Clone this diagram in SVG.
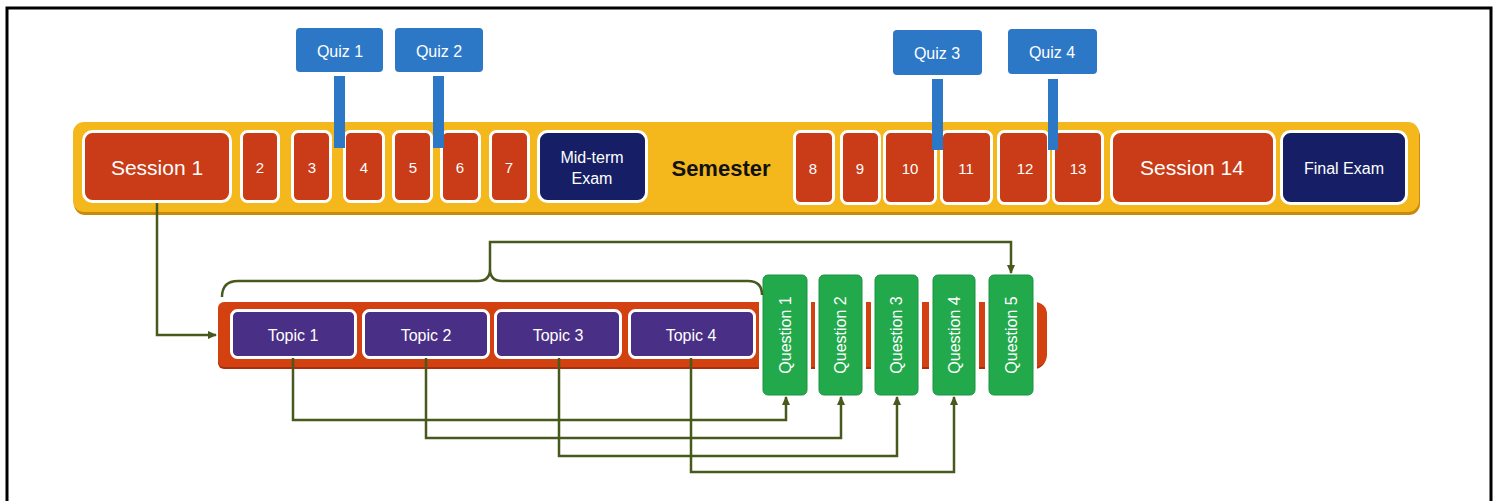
<svg xmlns="http://www.w3.org/2000/svg" width="1497" height="501" viewBox="0 0 1497 501">
  <style>
    .lbl { font-family: "Liberation Sans", Arial, sans-serif; fill: #ffffff; text-anchor: middle; dominant-baseline: central; }
    .session { fill: #C93C17; stroke: #ffffff; stroke-width: 3; }
    .exam { fill: #161F66; stroke: #ffffff; stroke-width: 3; }
    .quiz { fill: #2C78C6; }
    .topic { fill: #4A2F86; stroke: #ffffff; stroke-width: 3; }
    .question { fill: #21A94B; stroke: #1B9440; stroke-width: 1; }
    .link { fill: none; stroke: #48591E; stroke-width: 2.5; }
  </style>
  <defs>
    <marker id="arrow" markerWidth="10" markerHeight="10" refX="8" refY="5" orient="auto" markerUnits="userSpaceOnUse">
      <path d="M0,1 L9,5 L0,9 Z" fill="#48591E"/>
    </marker>
  </defs>

  <rect width="1497" height="501" fill="#ffffff"/>
  <!-- frame -->
  <path d="M7,501 V8 H1491 V501" fill="none" stroke="#000000" stroke-width="3"/>

  <!-- semester bar -->
  <g id="semester">
    <rect x="74" y="125" width="1346" height="90" rx="11" fill="#C98A0C"/>
    <rect x="73" y="122" width="1346" height="90" rx="11" fill="#F4B71C"/>
    <text x="721" y="168" class="lbl" style="fill:#111111;font-weight:bold;font-size:22px">Semester</text>
  </g>

  <g id="session-1"><rect class="session" x="83.5" y="131.5" width="147" height="70" rx="9"/><text class="lbl" x="157" y="167" font-size="21">Session 1</text></g>
  <g id="session-2"><rect class="session" x="241.5" y="131.5" width="37" height="70" rx="6"/><text class="lbl" x="260" y="167" font-size="15">2</text></g>
  <g id="session-3"><rect class="session" x="292.5" y="131.5" width="38" height="70" rx="6"/><text class="lbl" x="312" y="167" font-size="15">3</text></g>
  <g id="session-4"><rect class="session" x="344.5" y="131.5" width="39" height="70" rx="6"/><text class="lbl" x="364" y="167" font-size="15">4</text></g>
  <g id="session-5"><rect class="session" x="393.5" y="131.5" width="38" height="70" rx="6"/><text class="lbl" x="413" y="167" font-size="15">5</text></g>
  <g id="session-6"><rect class="session" x="441.5" y="131.5" width="38" height="70" rx="6"/><text class="lbl" x="460" y="167" font-size="15">6</text></g>
  <g id="session-7"><rect class="session" x="490.5" y="131.5" width="38" height="70" rx="6"/><text class="lbl" x="509" y="167" font-size="15">7</text></g>
  <g id="midterm"><rect class="exam" x="538.5" y="131.5" width="108" height="70" rx="9"/><text class="lbl" x="592" y="157" font-size="16">Mid-term</text><text class="lbl" x="592" y="178" font-size="16">Exam</text></g>
  <g id="session-8"><rect class="session" x="794.5" y="131.5" width="39" height="72" rx="6"/><text class="lbl" x="813" y="168" font-size="15">8</text></g>
  <g id="session-9"><rect class="session" x="841.5" y="131.5" width="38" height="72" rx="6"/><text class="lbl" x="860" y="168" font-size="15">9</text></g>
  <g id="session-10"><rect class="session" x="884.5" y="131.5" width="51" height="72" rx="6"/><text class="lbl" x="910" y="168" font-size="15">10</text></g>
  <g id="session-11"><rect class="session" x="941.5" y="131.5" width="50" height="72" rx="6"/><text class="lbl" x="966" y="168" font-size="15">11</text></g>
  <g id="session-12"><rect class="session" x="998.5" y="131.5" width="50" height="72" rx="6"/><text class="lbl" x="1025" y="168" font-size="15">12</text></g>
  <g id="session-13"><rect class="session" x="1053.5" y="131.5" width="49" height="72" rx="6"/><text class="lbl" x="1078" y="168" font-size="15">13</text></g>
  <g id="session-14"><rect class="session" x="1111.5" y="131.5" width="163" height="72" rx="9"/><text class="lbl" x="1192" y="167" font-size="21">Session 14</text></g>
  <g id="final"><rect class="exam" x="1281.5" y="131.5" width="125" height="72" rx="9"/><text class="lbl" x="1344" y="168" font-size="16">Final Exam</text></g>

  <!-- quizzes with stems into the sessions -->
  <g id="quiz-1"><rect class="quiz" x="334" y="76" width="11" height="72"/><rect class="quiz" x="296" y="28" width="87" height="44" rx="4"/><text class="lbl" x="340" y="51" font-size="16">Quiz 1</text></g>
  <g id="quiz-2"><rect class="quiz" x="433" y="76" width="11" height="72"/><rect class="quiz" x="395" y="28" width="88" height="44" rx="4"/><text class="lbl" x="439" y="51" font-size="16">Quiz 2</text></g>
  <g id="quiz-3"><rect class="quiz" x="932" y="79" width="11" height="71"/><rect class="quiz" x="893" y="30" width="89" height="45" rx="4"/><text class="lbl" x="937" y="53" font-size="16">Quiz 3</text></g>
  <g id="quiz-4"><rect class="quiz" x="1048" y="79" width="10" height="71"/><rect class="quiz" x="1008" y="29" width="89" height="45" rx="4"/><text class="lbl" x="1052" y="52" font-size="16">Quiz 4</text></g>

  <!-- session detail bar -->
  <g id="session-bar">
    <path d="M224,304 H1034 A12,12 0 0 1 1046,316 V357 A12,12 0 0 1 1034,369 H224 A6,6 0 0 1 218,363 V310 A6,6 0 0 1 224,304 Z" fill="#A82E10"/>
    <path d="M224,302 H1035 A12,12 0 0 1 1047,314 V355 A12,12 0 0 1 1035,367 H224 A6,6 0 0 1 218,361 V308 A6,6 0 0 1 224,302 Z" fill="#D2410F"/>
  </g>

  <g id="topic-1"><rect class="topic" x="231.5" y="310.5" width="124" height="47" rx="6"/><text class="lbl" x="293" y="335" font-size="16">Topic 1</text></g>
  <g id="topic-2"><rect class="topic" x="363.5" y="310.5" width="125" height="47" rx="6"/><text class="lbl" x="426" y="335" font-size="16">Topic 2</text></g>
  <g id="topic-3"><rect class="topic" x="495.5" y="310.5" width="125" height="47" rx="6"/><text class="lbl" x="558" y="335" font-size="16">Topic 3</text></g>
  <g id="topic-4"><rect class="topic" x="629.5" y="310.5" width="125" height="47" rx="6"/><text class="lbl" x="691" y="335" font-size="16">Topic 4</text></g>

  <!-- white gaps where the questions sit on the bar -->
  <g id="question-gaps" fill="#ffffff">
    <rect x="759" y="300" width="52" height="70"/>
    <rect x="815" y="300" width="51" height="70"/>
    <rect x="871" y="300" width="51" height="70"/>
    <rect x="929" y="300" width="50" height="70"/>
    <rect x="985" y="300" width="52" height="70"/>
  </g>
  <g id="question-1"><rect class="question" x="763" y="275" width="44" height="120" rx="5"/><text class="lbl" transform="translate(785,335) rotate(-90)" font-size="16">Question 1</text></g>
  <g id="question-2"><rect class="question" x="819" y="275" width="43" height="120" rx="5"/><text class="lbl" transform="translate(840.5,335) rotate(-90)" font-size="16">Question 2</text></g>
  <g id="question-3"><rect class="question" x="875" y="275" width="43" height="120" rx="5"/><text class="lbl" transform="translate(896.5,335) rotate(-90)" font-size="16">Question 3</text></g>
  <g id="question-4"><rect class="question" x="933" y="275" width="42" height="120" rx="5"/><text class="lbl" transform="translate(954,335) rotate(-90)" font-size="16">Question 4</text></g>
  <g id="question-5"><rect class="question" x="989" y="275" width="44" height="120" rx="5"/><text class="lbl" transform="translate(1011,335) rotate(-90)" font-size="16">Question 5</text></g>

  <!-- connectors -->
  <g id="connectors" class="link">
    <path class="link" d="M157,203 V335 H216" marker-end="url(#arrow)"/>
    <path class="link" d="M222,297 Q222,281 238,281 H478 Q490,281 490,269 Q490,281 502,281 H748 Q762,281 762,295"/>
    <path class="link" d="M490,269 V242 H1011 V273" marker-end="url(#arrow)"/>
    <path class="link" d="M293,358 V420 H786 V397" marker-end="url(#arrow)"/>
    <path class="link" d="M426,358 V438 H841 V397" marker-end="url(#arrow)"/>
    <path class="link" d="M559,358 V456 H897 V397" marker-end="url(#arrow)"/>
    <path class="link" d="M691,358 V472 H954 V397" marker-end="url(#arrow)"/>
  </g>
</svg>
